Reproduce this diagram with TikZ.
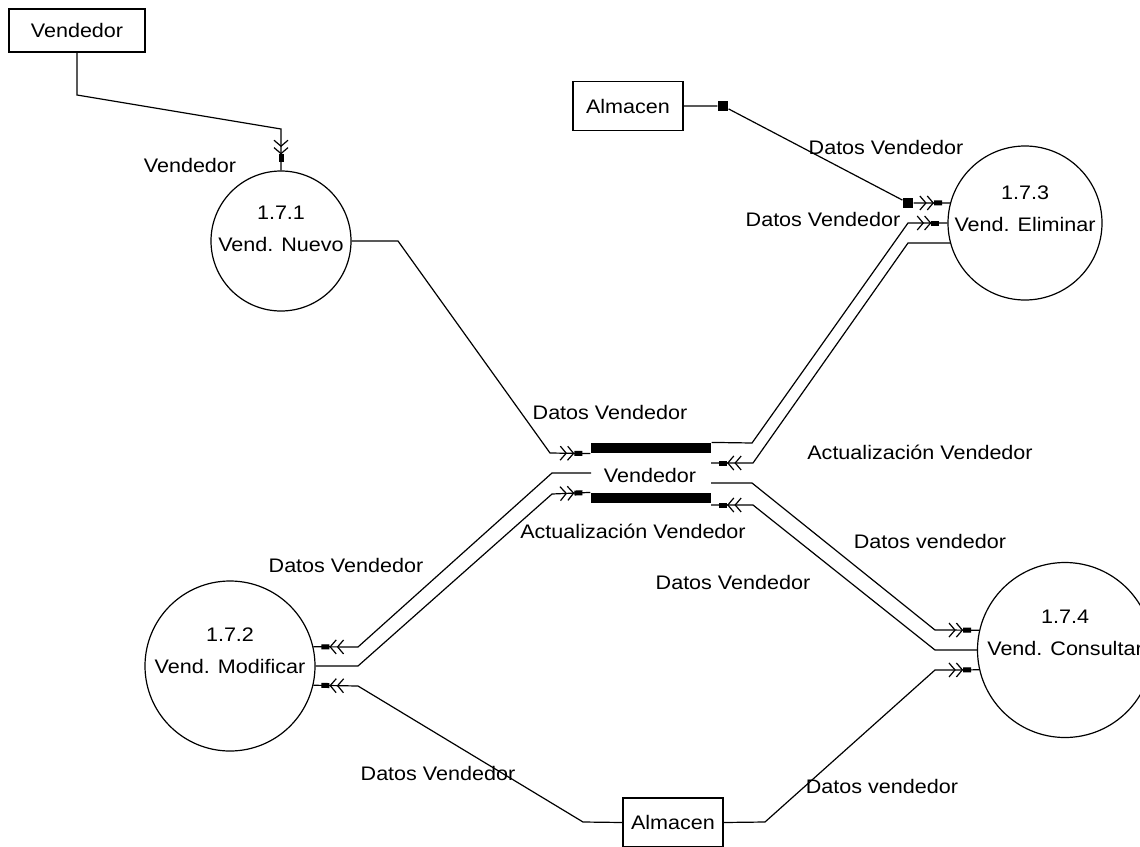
\documentclass[tikz,border=0pt]{standalone}
\usepackage{fontspec}
\setmainfont{Liberation Sans}[FakeStretch=1.1]
\usetikzlibrary{arrows.meta}
\usetikzlibrary{decorations.markings}

\begin{document}
\begin{tikzpicture}[x=0.5pt, y=-0.5pt, line width=0.6pt,
  font=\fontsize{9.8}{16}\selectfont,
  ent/.style={draw, rectangle, inner sep=0pt},
  proc/.style={draw, circle, inner sep=0pt},
  ptext/.style={align=center, inner sep=0pt},
  barra/.style={fill, rectangle, minimum width=60pt, minimum height=5pt, inner sep=0pt},
  cuadro/.style={fill, rectangle, minimum size=5pt, inner sep=0pt},
  punta/.tip={Straight Barb[length=3pt,width=7pt] Straight Barb[length=3pt,width=7pt] Rectangle[length=4pt,width=2.5pt]},
  flujo/.style={postaction={decorate}, decoration={markings, mark=at position -4pt with {\arrow{punta}}}}
]
\useasboundingbox (0,0) rectangle (1140,846);

% entidades
\node[ent, minimum width=68pt, minimum height=21.5pt] (e1) at (77,30.5) {Vendedor};
\node[ent, minimum width=55pt, minimum height=24.5pt] (e2) at (628,106) {Almacen};
\node[ent, minimum width=50pt, minimum height=24.5pt] (e3) at (673,822.5) {Almacen};

% procesos
\node[proc, minimum size=70pt] (p1) at (281,241) {};
\node[proc, minimum size=85pt] (p2) at (230,666) {};
\node[proc, minimum size=77pt] (p3) at (1025,223) {};
\node[proc, minimum size=87.5pt] (p4) at (1065,650) {};
\node[ptext] (t1) at ([yshift=6.25pt]p1.center) {1.7.1\\Vend. Nuevo};
\node[ptext] (t2) at ([yshift=7.75pt]p2.center) {1.7.2\\Vend. Modificar};
\node[ptext] (t3) at ([yshift=7pt]p3.center) {1.7.3\\Vend. Eliminar};
\node[ptext] (t4) at ([yshift=8.5pt]p4.center) {1.7.4\\Vend. Consultar};

% almacen de datos
\node[barra] (sb1) at (651,448) {};
\node[barra] (sb2) at (651,498) {};
\node (st) at (650,475) {Vendedor};
\coordinate (sl) at (591,473);
\coordinate (sa) at (711,463);
\coordinate (sr) at (711,483);
\coordinate (sb) at (711,505);

\node[cuadro] (q1) at (723,106) {};
\node[cuadro] (q2) at (908,203) {};

% flujos
\draw[flujo] (e1.south) -- (77,95) -- (281,129) -- (p1.north);
\draw[flujo] (p1.east) -- (398,241) -- (550,453) -- (sb1.south west);
\draw[flujo] (sb1.north east) -- (752,443) -- (908,223) -- (p3.west);
\draw[flujo] (p3.195) -- (908,243) -- (753,463) -- (sa);
\draw[flujo] (e2.east) -- (q1) -- (q2) -- (p3.165);
\draw[flujo] (sl) -- (552,473) -- (358,647) -- (p2.13);
\draw[flujo] (p2.east) -- (358,666) -- (552,494) -- (sb2.north west);
\draw[flujo] (sr) -- (752,483) -- (935,630) -- (p4.167);
\draw[flujo] (p4.west) -- (935,650) -- (753,505) -- (sb);
\draw[flujo] (e3.west) -- (583,822) -- (358,686) -- (p2.-13);
\draw[flujo] (e3.east) -- (765,822) -- (935,670) -- (p4.193);

% etiquetas
\node (l1) at (190,165) {Vendedor};
\node (l2) at (610,412) {Datos Vendedor};
\node (l3) at (886,147) {Datos Vendedor};
\node (l4) at (823,219) {Datos Vendedor};
\node (l5) at (920,452) {Actualización Vendedor};
\node (l6) at (633,531) {Actualización Vendedor};
\node (l7) at (346,565) {Datos Vendedor};
\node (l8) at (930,541) {Datos vendedor};
\node (l9) at (733,582) {Datos Vendedor};
\node (l10) at (438,773) {Datos Vendedor};
\node (l11) at (882,786) {Datos vendedor};
\end{tikzpicture}
\end{document}
